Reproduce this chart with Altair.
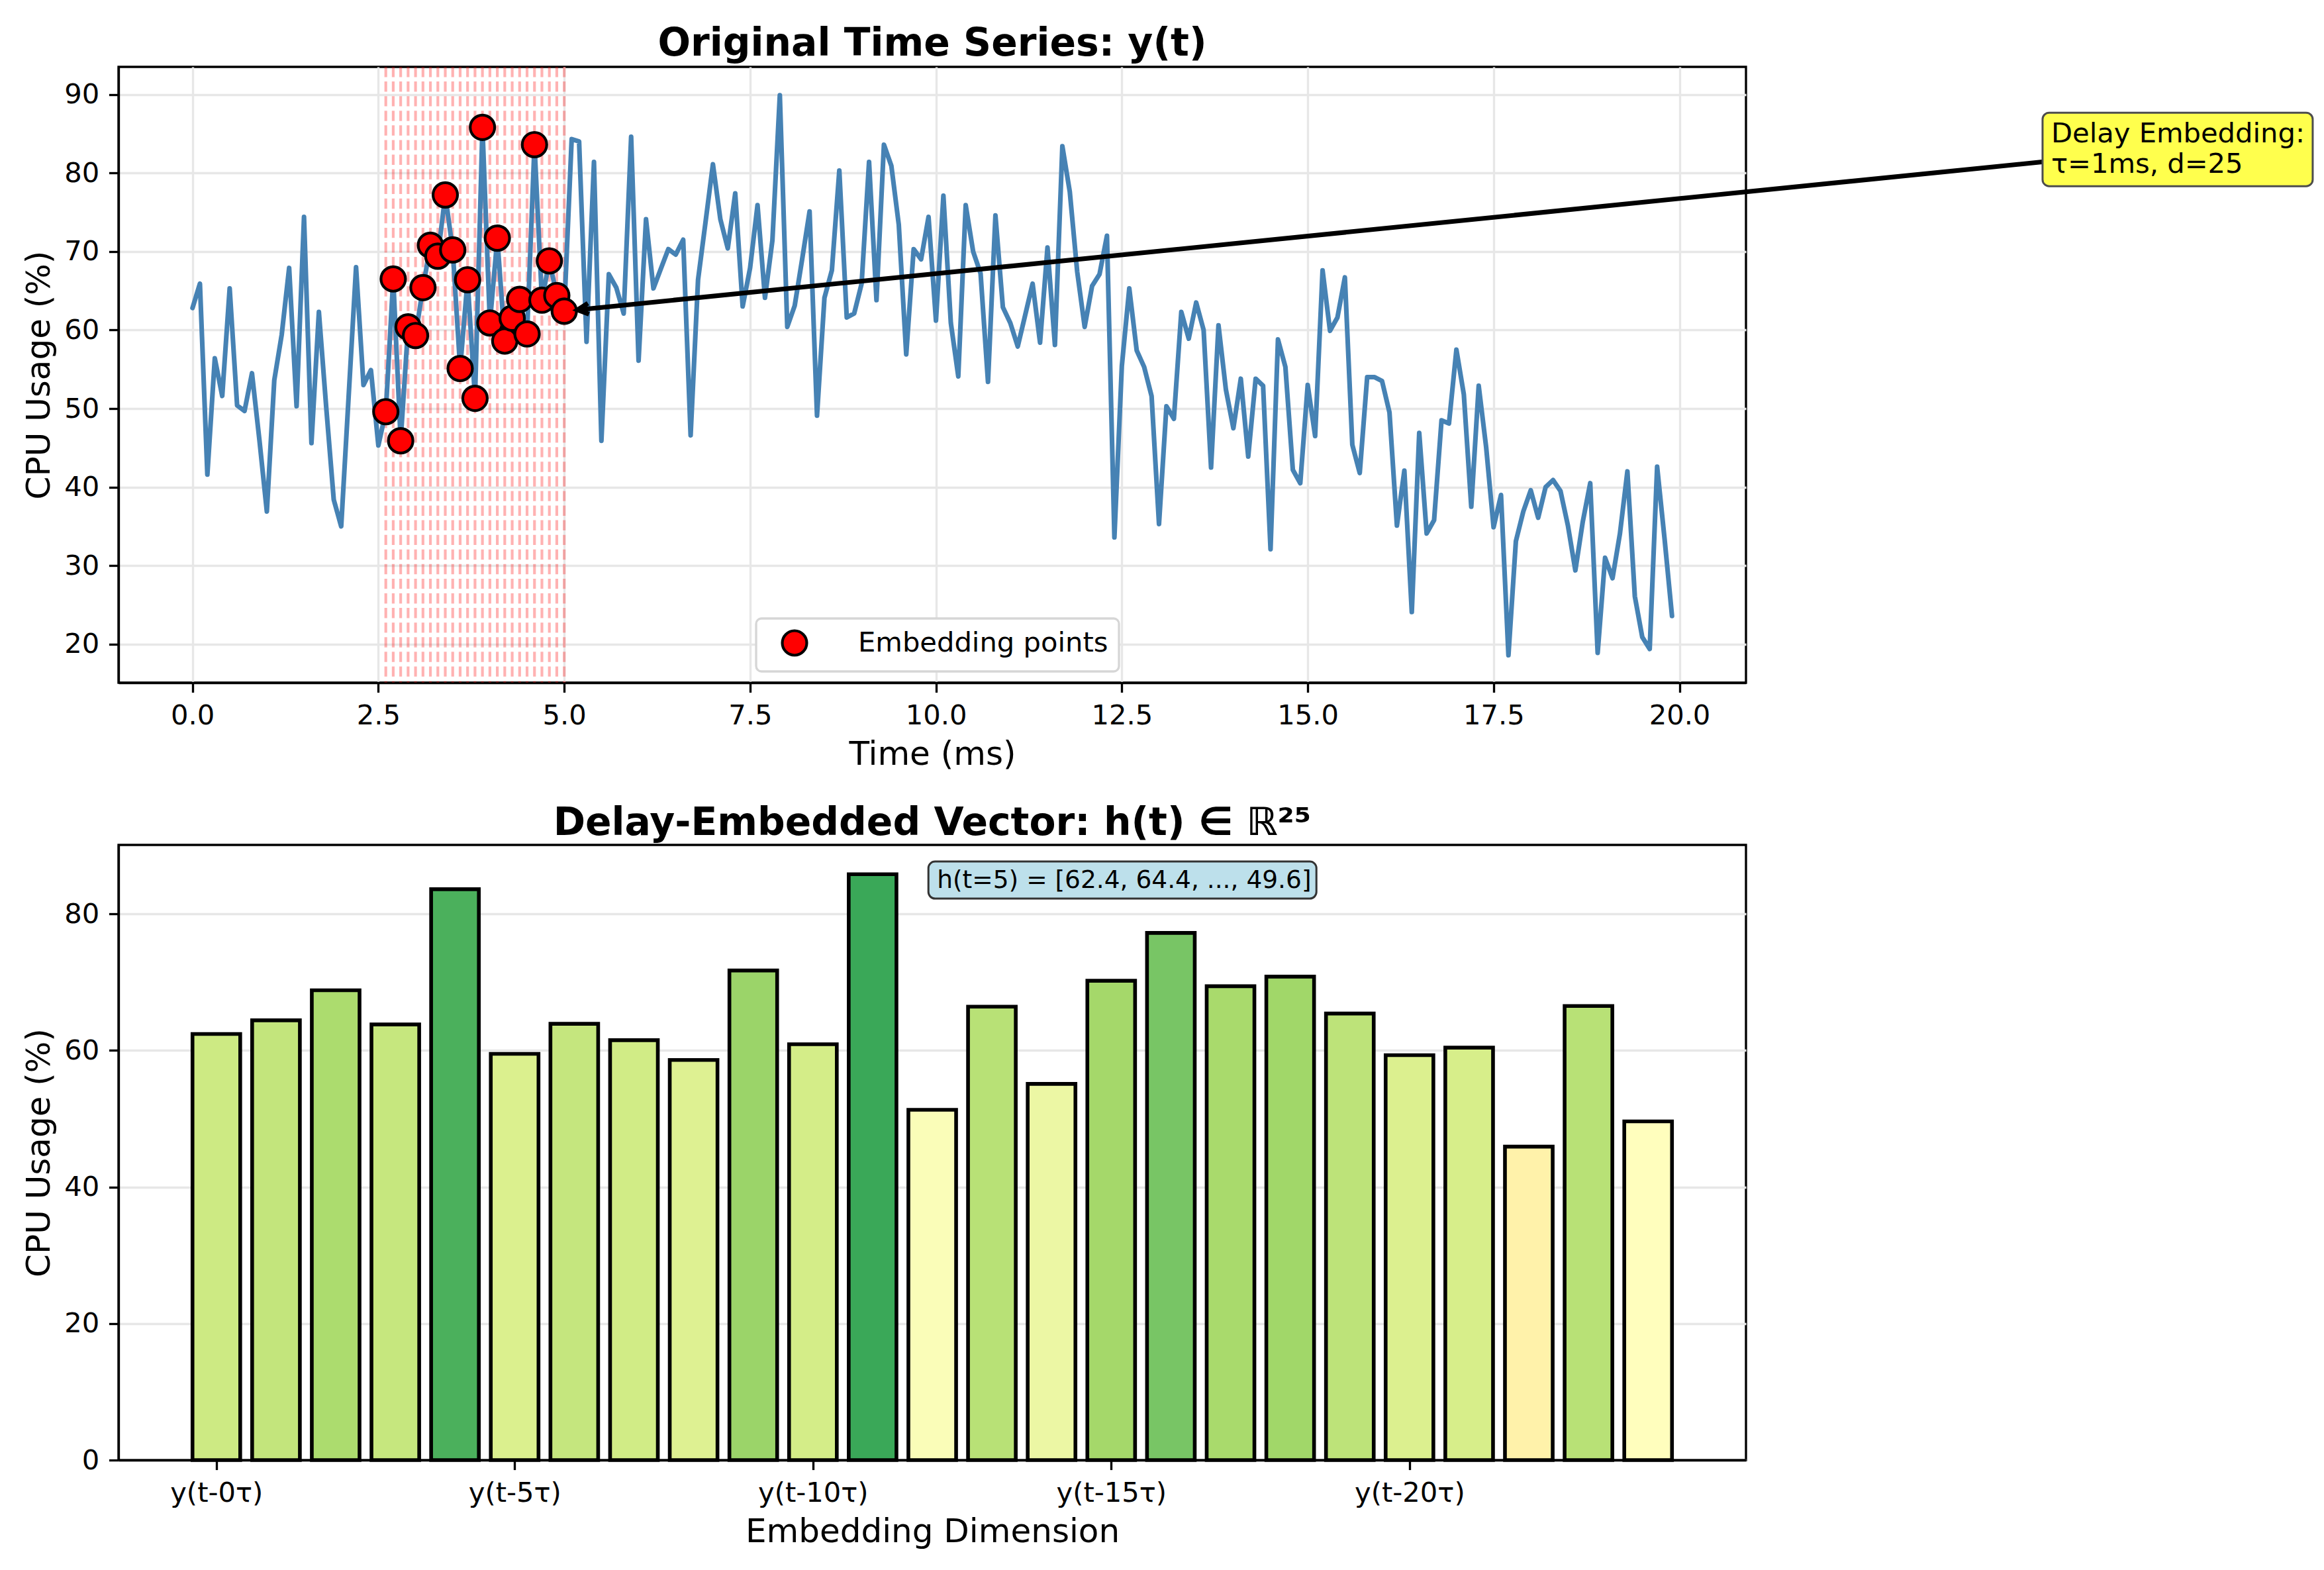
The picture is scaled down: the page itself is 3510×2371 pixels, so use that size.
import math
import altair as alt
import pandas as pd

FONT = "DejaVu Sans"

# ---------------- data ----------------
TIME_STEP = 0.1
cpu_usage = [
    62.8, 65.9, 41.6, 56.4, 51.6, 65.3, 50.4, 49.7, 54.5, 46.0,
    36.9, 53.6, 59.4, 67.9, 50.3, 74.4, 45.6, 62.3, 50.0, 38.4,
    35.0, 51.5, 68.0, 53.0, 54.9, 45.3, 49.6, 66.5, 45.9, 60.4,
    59.3, 65.4, 70.8, 69.4, 77.2, 70.2, 55.1, 66.4, 51.3, 85.8,
    60.9, 71.7, 58.6, 61.5, 63.9, 59.5, 83.6, 63.8, 68.8, 64.4,
    62.4, 84.3, 84.0, 58.5, 81.4, 45.9, 67.1, 65.4, 62.1, 84.6,
    56.1, 74.1, 65.3, 67.8, 70.3, 69.6, 71.5, 46.6, 66.4, 73.7,
    81.1, 74.1, 70.4, 77.4, 63.0, 67.9, 75.9, 64.1, 71.4, 89.9,
    60.4, 63.1, 69.0, 75.1, 49.1, 64.1, 67.6, 80.3, 61.6, 62.1,
    65.9, 81.4, 63.8, 83.6, 80.9, 73.4, 56.9, 70.3, 69.0, 74.4,
    61.2, 77.1, 60.9, 54.1, 75.9, 70.0, 67.2, 53.4, 74.6, 62.9,
    60.9, 57.9, 61.9, 65.9, 58.4, 70.5, 58.1, 83.4, 77.6, 67.4,
    60.4, 65.6, 67.1, 72.0, 33.6, 55.4, 65.3, 57.4, 55.3, 51.6,
    35.3, 50.3, 48.7, 62.3, 58.9, 63.5, 60.0, 42.5, 60.6, 52.4,
    47.5, 53.8, 43.9, 53.8, 52.9, 32.1, 58.8, 55.3, 42.2, 40.5,
    53.0, 46.5, 67.6, 59.9, 61.6, 66.7, 45.4, 41.8, 54.0, 54.0,
    53.5, 49.5, 35.1, 42.1, 24.1, 46.9, 34.1, 35.8, 48.5, 48.1,
    57.5, 51.8, 37.5, 52.9, 45.1, 34.9, 39.0, 18.6, 33.1, 36.9,
    39.6, 36.1, 40.0, 40.9, 39.5, 35.1, 29.4, 35.6, 40.5, 18.9,
    31.0, 28.4, 34.1, 42.0, 26.1, 20.9, 19.4, 42.6, 33.4, 23.6,
]
time_ms = [round(i * TIME_STEP, 1) for i in range(len(cpu_usage))]

EMBED_DIM = 25
EMBED_END_INDEX = 50          # t = 5.0 ms
TAU_LABEL = "1ms"
embed_idx = list(range(EMBED_END_INDEX - EMBED_DIM + 1, EMBED_END_INDEX + 1))
h_values = [cpu_usage[EMBED_END_INDEX - k] for k in range(EMBED_DIM)]
dim_index = list(range(EMBED_DIM))
dim_tick_values = [0, 5, 10, 15, 20]

ANN_TEXT = f"Delay Embedding:\nτ={TAU_LABEL}, d={EMBED_DIM}"
ANN_XY = (25.0, 80.0)            # text anchor (data coords)
ARROW_START = (24.88, 81.4)      # where the arrow leaves the box
H_TEXT = f"h(t=5) = [{h_values[0]:.1f}, {h_values[1]:.1f}, ..., {h_values[-1]:.1f}]"
H_XY = (12.08, 86.5)

RDYLGN = ["#a50026", "#d73027", "#f46d43", "#fdae61", "#fee08b", "#ffffbf",
          "#d9ef8b", "#a6d96a", "#66bd63", "#1a9850", "#006837"]
RDYLGN_STOPS = [0, 10, 20, 30, 40, 50, 60, 70, 80, 90, 100]

# ---------------- geometry / styles ----------------
W = 2458
H1 = 930
H2 = 929
X1 = [-0.995, 20.895]
Y1 = [15.1, 93.5]
X2 = [-1.64, 25.64]
Y2 = [0, 90.09]
PT = 300 / 72.0

df = pd.DataFrame({"t": time_ms, "cpu": cpu_usage})
emb = df.iloc[embed_idx].copy()
emb["label"] = "Embedding points"
tip_t = time_ms[EMBED_END_INDEX]
tip_v = cpu_usage[EMBED_END_INDEX]

xs = alt.Scale(domain=X1, nice=False, zero=False)
ys = alt.Scale(domain=Y1, nice=False, zero=False)

x_axis = alt.Axis(values=[0, 2.5, 5, 7.5, 10, 12.5, 15, 17.5, 20], format=".1f",
                  title="Time (ms)", grid=True)
y_axis = alt.Axis(values=list(range(20, 91, 10)), title="CPU Usage (%)", grid=True)

rules = alt.Chart(emb).mark_rule(color="red", opacity=0.3, strokeWidth=1 * PT,
                                 strokeDash=[3.7 * PT, 1.6 * PT]).encode(
    x=alt.X("t:Q", scale=xs, axis=x_axis))

line = alt.Chart(df).mark_line(color="#4682b4", strokeWidth=2 * PT * 0.85,
                               strokeJoin="round", strokeCap="round").encode(
    x=alt.X("t:Q", scale=xs, axis=x_axis),
    y=alt.Y("cpu:Q", scale=ys, axis=y_axis))

points = alt.Chart(emb).mark_point(filled=True, shape="circle", size=1365,
                                   stroke="black", strokeWidth=1.0 * PT,
                                   opacity=1).encode(
    x=alt.X("t:Q", scale=xs, axis=x_axis),
    y=alt.Y("cpu:Q", scale=ys, axis=y_axis),
    color=alt.Color("label:N", scale=alt.Scale(range=["red"]),
                    legend=alt.Legend(title=None, orient="none", legendX=963, legendY=833,
                                      padding=16, strokeColor="#d6d6d6",
                                      cornerRadius=8, fillColor="white",
                                      symbolType="circle", symbolSize=1365,
                                      symbolStrokeColor="black", symbolStrokeWidth=1.0 * PT,
                                      symbolFillColor="red", symbolOffset=21,
                                      labelOffset=75, labelFont=FONT, labelLimit=2000,
                                      labelFontSize=10 * PT, labelColor="black")))

ann = pd.DataFrame({"ax": [ANN_XY[0]], "ay": [ANN_XY[1]], "txt": [ANN_TEXT],
                    "sx": [ARROW_START[0]], "sy": [ARROW_START[1]],
                    "ex": [tip_t], "ey": [tip_v]})

TIP_DX, TIP_DY = 20, -2


def px1(x):
    return (x - X1[0]) / (X1[1] - X1[0]) * W


def py1(y):
    return (Y1[1] - y) / (Y1[1] - Y1[0]) * H1


dx = px1(tip_t) + TIP_DX - px1(ARROW_START[0])
dy = py1(tip_v) + TIP_DY - py1(ARROW_START[1])
arrow_angle = math.degrees(math.atan2(dy, dx)) % 360

arrow_line = alt.Chart(ann).mark_rule(color="black", strokeWidth=2 * PT * 0.85,
                                      x2Offset=TIP_DX, y2Offset=TIP_DY).encode(
    x=alt.X("sx:Q", scale=xs, axis=x_axis),
    y=alt.Y("sy:Q", scale=ys, axis=y_axis),
    x2="ex:Q", y2="ey:Q")

arrow_head = alt.Chart(ann).mark_point(shape="M -1 -0.5 L 0 0 L -1 0.5", filled=False,
                                       stroke="black", strokeWidth=2 * PT * 0.85,
                                       size=1115, angle=arrow_angle, opacity=1,
                                       strokeJoin="miter",
                                       xOffset=TIP_DX, yOffset=TIP_DY).encode(
    x=alt.X("ex:Q", scale=xs, axis=x_axis),
    y=alt.Y("ey:Q", scale=ys, axis=y_axis))

ann_box = alt.Chart(ann).mark_rect(fill="#ffff4d", stroke="#4d4d4d", strokeWidth=3,
                                   cornerRadius=10, xOffset=-13, x2Offset=395,
                                   yOffset=-91, y2Offset=20).encode(
    x=alt.X("ax:Q", scale=xs, axis=x_axis), x2="ax:Q",
    y=alt.Y("ay:Q", scale=ys, axis=y_axis), y2="ay:Q")

ann_text = alt.Chart(ann).mark_text(align="left", baseline="alphabetic", font=FONT,
                                    fontSize=10 * PT, color="black", lineBreak="\n",
                                    lineHeight=46, dy=-46).encode(
    x=alt.X("ax:Q", scale=xs, axis=x_axis),
    y=alt.Y("ay:Q", scale=ys, axis=y_axis),
    text="txt:N")

top = alt.layer(rules, line, points, arrow_line, arrow_head, ann_box, ann_text).properties(
    width=W, height=H1, title="Original Time Series: y(t)")

# ---------------- bottom ----------------
bars_df = pd.DataFrame({"dim": dim_index, "value": h_values})
bx = alt.Scale(domain=X2, nice=False, zero=False)
by = alt.Scale(domain=Y2, nice=False)
bx_axis = alt.Axis(values=dim_tick_values, labelExpr="'y(t-' + datum.value + 'τ)'",
                   title="Embedding Dimension", grid=False)
by_axis = alt.Axis(values=[0, 20, 40, 60, 80], title="CPU Usage (%)", grid=True)

bars = alt.Chart(bars_df).transform_calculate(
    x0="datum.dim - 0.4", x1="datum.dim + 0.4", base="0"
).mark_rect(stroke="black", strokeWidth=1.5 * PT * 0.9, opacity=1).encode(
    x=alt.X("x0:Q", scale=bx, axis=bx_axis),
    x2="x1:Q",
    y=alt.Y("value:Q", scale=by, axis=by_axis),
    y2="base:Q",
    color=alt.Color("value:Q", scale=alt.Scale(domain=RDYLGN_STOPS, range=RDYLGN,
                                               interpolate="rgb"), legend=None))

hann = pd.DataFrame({"hx": [H_XY[0]], "hy": [H_XY[1]], "txt": [H_TEXT]})
h_box = alt.Chart(hann).mark_rect(fill="#bde0eb", stroke="#333333", strokeWidth=3,
                                  cornerRadius=10, xOffset=-13, x2Offset=573,
                                  yOffset=-12, y2Offset=44).encode(
    x=alt.X("hx:Q", scale=bx, axis=bx_axis), x2="hx:Q",
    y=alt.Y("hy:Q", scale=by, axis=by_axis), y2="hy:Q")
h_text = alt.Chart(hann).mark_text(align="left", baseline="top", font=FONT,
                                   fontSize=9 * PT, color="black", dy=-2).encode(
    x=alt.X("hx:Q", scale=bx, axis=bx_axis),
    y=alt.Y("hy:Q", scale=by, axis=by_axis),
    text="txt:N")

bottom = alt.layer(bars, h_box, h_text).properties(
    width=W, height=H2, title="Delay-Embedded Vector: h(t) ∈ ℝ²⁵")

chart = alt.vconcat(top, bottom, spacing=45).properties(
    padding={"left": 32, "top": 34, "right": 5, "bottom": 5}
).configure(background="white").configure_view(
    stroke="black", strokeWidth=0.8 * PT
).configure_legend(
    strokeWidth=3.3
).configure_axis(
    domainColor="black", domainWidth=0.8 * PT, tickColor="black", tickWidth=0.8 * PT,
    tickSize=3.5 * PT, labelPadding=3.5 * PT, labelFont=FONT, labelFontSize=10 * PT,
    labelColor="black", titleFont=FONT, titleFontSize=12 * PT, titleFontWeight="normal",
    titleColor="black", titlePadding=4 * PT - 4, gridColor="#e7e7e7", gridWidth=0.8 * PT,
    labelFlush=False, labelOverlap=False
).configure_title(
    font=FONT, fontSize=14 * PT, fontWeight="bold", color="black", anchor="middle",
    offset=3
)

chart.save("out.html", embed_options={"renderer": "svg", "actions": False})
